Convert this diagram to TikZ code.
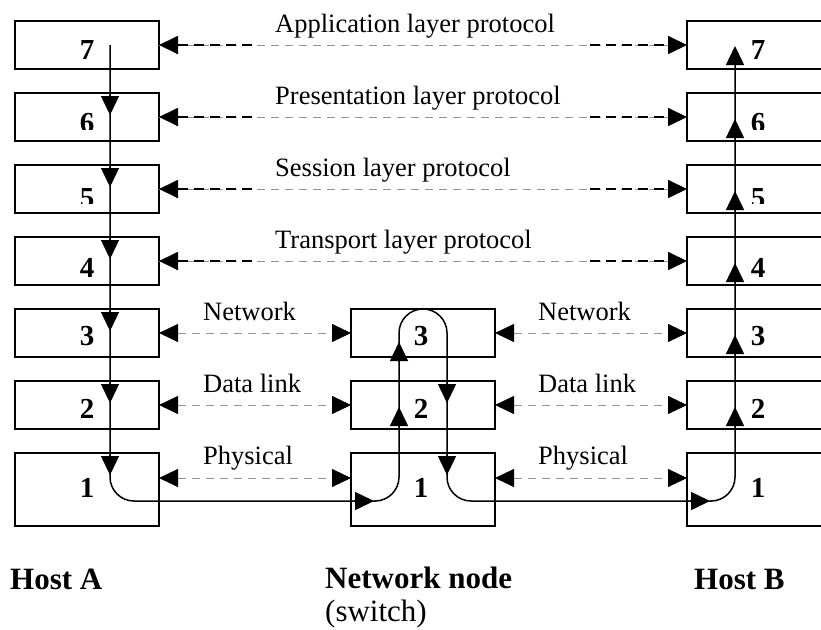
\documentclass[tikz,border=0pt]{standalone}
\usepackage{fontspec}
\setmainfont{Liberation Serif}
\usetikzlibrary{arrows.meta}
\begin{document}
\begin{tikzpicture}[x=1pt,y=-1pt,
  box/.style={draw,line width=1.6pt,minimum width=144pt,minimum height=48pt,inner sep=0pt,outer sep=0pt},
  tallbox/.style={box,minimum height=73pt},
  digit/.style={anchor=base,inner sep=0pt,font=\fontsize{29}{30}\selectfont\bfseries},
  lbl/.style={anchor=base west,inner sep=0pt,font=\fontsize{26.5}{30}\selectfont},
  host/.style={anchor=base west,inner sep=0pt,font=\fontsize{31}{34}\selectfont\bfseries},
  subl/.style={anchor=base west,inner sep=0pt,font=\fontsize{31}{34}\selectfont},
  Ah/.tip={Triangle[length=19pt,width=18pt,color=black]},
  flow/.style={line width=1.5pt,line join=round},
  graydash/.style={line width=1pt,draw=black!42,dash pattern=on 8pt off 6pt},
  blkdash/.style={line width=1.8pt,draw=black,dash pattern=on 10pt off 6pt},
]
\clip (0,0) rectangle (821,629);
% ---- boxes
\foreach \k/\yc in {7/45,6/117,5/189,4/261,3/333,2/405}{
  \node[box] (A\k) at (87,\yc) {};
  \node[box] (B\k) at (759,\yc) {};
}
\node[tallbox] (A1) at (87,489.5) {};
\node[tallbox] (B1) at (759,489.5) {};
\node[box] (N3) at (423,333) {};
\node[box] (N2) at (423,405) {};
\node[tallbox] (N1) at (423,489.5) {};
% ---- digits
\foreach \x/\c in {87/A,758/B}{
  \node[digit] (d\c7) at (\x,59) {7};
  \begin{scope}
    \clip (\x-30,100) rectangle (\x+30,129.5);
    \node[digit] (d\c6) at (\x,132) {6};
  \end{scope}
  \begin{scope}
    \clip (\x-30,170) rectangle (\x+30,203.5);
    \node[digit] (d\c5) at (\x,207) {5};
  \end{scope}
  \node[digit] (d\c4) at (\x,277) {4};
  \node[digit] (d\c3) at (\x,345) {3};
  \node[digit] (d\c2) at (\x,418) {2};
  \node[digit] (d\c1) at (\x,497) {1};
}
\node[digit] (dN3) at (421,345) {3};
\node[digit] (dN2) at (421,418) {2};
\node[digit] (dN1) at (421,497) {1};
% ---- peer protocols, layers 4-7
\foreach \k in {7,6,5,4}{
  \draw[graydash] (A\k.east) -- (B\k.west);
  \draw[blkdash,Ah-] (A\k.east) -- ([xshift=96pt]A\k.east);
  \draw[blkdash,-Ah] ([xshift=-97pt]B\k.west) -- (B\k.west);
}
\node[lbl] (l7) at (275,32) {Application layer protocol};
\node[lbl] (l6) at (275,104) {Presentation layer protocol};
\node[lbl] (l5) at (275,176) {Session layer protocol};
\node[lbl] (l4) at (275,248) {Transport layer protocol};
% ---- peer protocols, layers 1-3
\foreach \k in {3,2}{
  \draw[graydash,Ah-Ah] (A\k.east) -- (N\k.west);
  \draw[graydash,Ah-Ah] (N\k.east) -- (B\k.west);
}
\draw[graydash,Ah-Ah] ([yshift=-25pt]A1.north east) -- ([yshift=-25pt]N1.north west);
\draw[graydash,Ah-Ah] ([yshift=-25pt]N1.north east) -- ([yshift=-25pt]B1.north west);
\node[lbl] (l3a) at (203,320) {Network};
\node[lbl] (l3b) at (538,320) {Network};
\node[lbl] (l2a) at (203,392) {Data link};
\node[lbl] (l2b) at (538,392) {Data link};
\node[lbl] (l1a) at (203,464) {Physical};
\node[lbl] (l1b) at (538,464) {Physical};
% ---- data flow
\coordinate (s) at (110,45);
\coordinate (c1) at (110,501);
\coordinate (c2) at (399,501);
\coordinate (c3) at (399,309);
\coordinate (c4) at (447,309);
\coordinate (c5) at (447,501);
\coordinate (c6) at (735,501);
\coordinate (e) at (735,46);
\draw[flow,rounded corners=24pt,-Ah] (s) -- (c1) -- (c2) -- (c3) -- (c4) -- (c5) -- (c6) -- (e);
\foreach \t in {115,187,259,331,403,475}{
  \draw[flow,-Ah] (110,\t-20) -- (110,\t);
}
\foreach \t in {403,475}{
  \draw[flow,-Ah] (447,\t-20) -- (447,\t);
}
\foreach \t in {407,342}{
  \draw[flow,-Ah] (399,\t+20) -- (399,\t);
}
\foreach \t in {119,191,263,335,407}{
  \draw[flow,-Ah] (735,\t+20) -- (735,\t);
}
\draw[flow,-Ah] (354,501) -- (374,501);
\draw[flow,-Ah] (690,501) -- (710,501);
% ---- captions
\node[host] (hA) at (10,589) {Host A};
\node[host] (hN) at (325,588) {Network node};
\node[subl] (hS) at (325,621) {(switch)};
\node[host] (hB) at (694,589) {Host B};
\end{tikzpicture}
\end{document}
